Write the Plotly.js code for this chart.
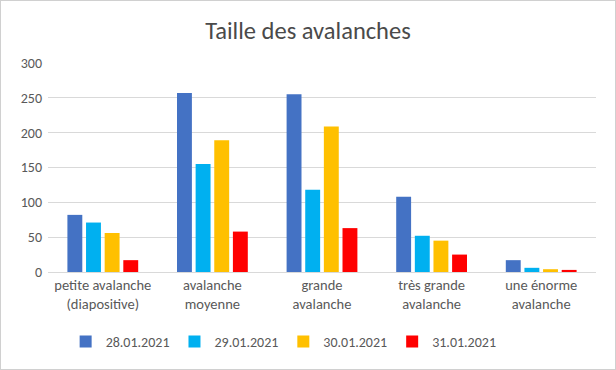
<!DOCTYPE html>
<html><head><meta charset="utf-8">
<script src="https://cdn.plot.ly/plotly-3.0.1.min.js"></script>
<style>
html,body{margin:0;padding:0;background:#fff;}
#frame{position:absolute;left:0;top:0;width:614px;height:368px;border:1px solid #d0d0d0;}
#chart{position:absolute;left:0;top:0;width:616px;height:370px;}
</style></head>
<body>
<div id="chart"></div>
<div id="frame"></div>
<script>
const categories = ["petite avalanche<br>(diapositive)", "avalanche<br>moyenne", "grande<br>avalanche", "très grande<br>avalanche", "une énorme<br>avalanche"];
const seriesNames = ["28.01.2021", "29.01.2021", "30.01.2021", "31.01.2021"];
const s28 = [82, 257, 255, 108, 17];
const s29 = [71, 155, 118, 52, 6];
const s30 = [56, 189, 209, 45, 4];
const s31 = [17, 58, 63, 25, 3];
const yTicks = [0, 50, 100, 150, 200, 250, 300];
const colors = ["#4472C4", "#00B0F0", "#FFC000", "#FF0000"];
const allSeries = [s28, s29, s30, s31];

const font = "Calibri, Carlito, Lato, 'Liberation Sans', sans-serif";
const traces = allSeries.map((vals, i) => ({
  type: "bar", x: categories, y: vals, name: seriesNames[i],
  marker: {color: colors[i], line: {width: 0}},
  hoverinfo: "none"
}));
const layout = {
  width: 616, height: 370,
  margin: {l: 48, r: 20, t: 63, b: 98},
  paper_bgcolor: "#fff", plot_bgcolor: "#fff",
  title: {text: "Taille des avalanches", font: {family: font, size: 24.5, color: "#4a4a4a"}, x: 0.5, xanchor: "center", y: 0.918, yanchor: "middle"},
  barmode: "group", bargap: 0.32, bargroupgap: 0.2,
  font: {family: font, color: "#595959", size: 14},
  xaxis: {showgrid: false, showline: true, linecolor: "#d9d9d9", linewidth: 1, ticks: "", tickfont: {size: 14.5, color: "#595959"}},
  yaxis: {range: [0, 300], tickvals: yTicks, ticktext: yTicks.map(String), showgrid: true, gridcolor: "#d9d9d9", zeroline: false, showline: false, ticks: "", tickfont: {size: 14, color: "#595959"}, ticklabelstandoff: 5},
  legend: {orientation: "h", x: 0.43, xanchor: "center", y: -0.335, yanchor: "middle", font: {size: 14, color: "#595959"}, itemwidth: 30, traceorder: "normal"},
  showlegend: true
};
Plotly.newPlot("chart", traces, layout, {displayModeBar: false, staticPlot: true});
</script>
</body></html>
